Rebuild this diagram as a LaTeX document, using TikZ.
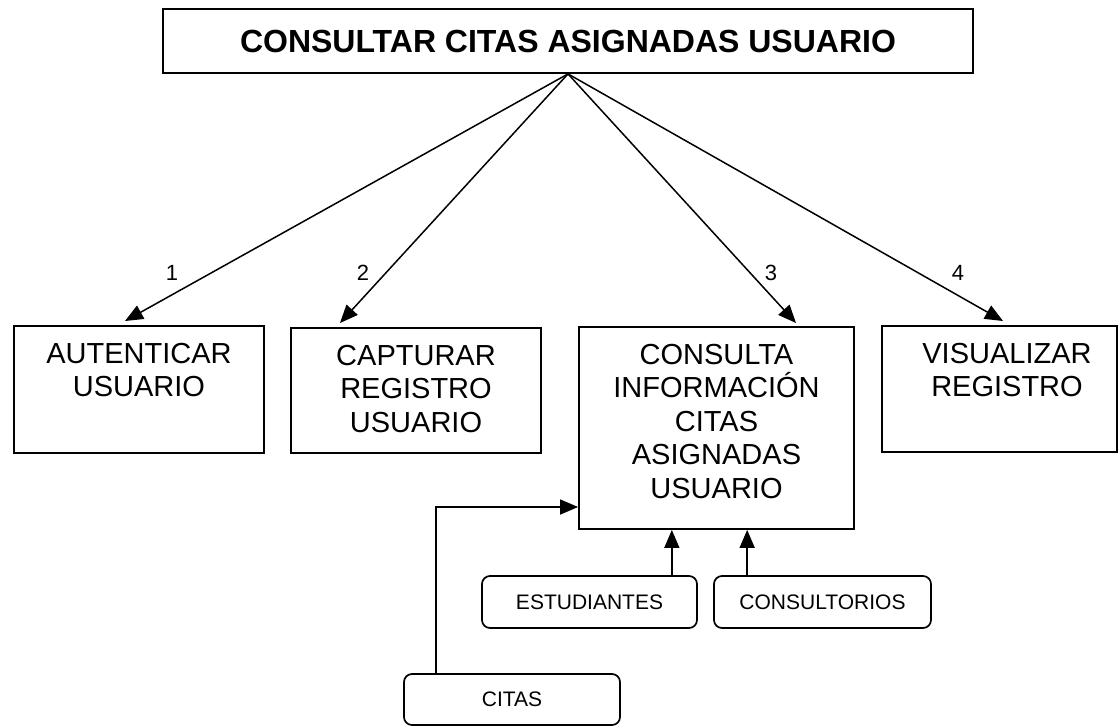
\documentclass[tikz,border=0pt]{standalone}
\usepackage{fontspec}
\setmainfont{Liberation Sans}
\usetikzlibrary{arrows.meta,calc}
\begin{document}
\begin{tikzpicture}[x=1pt,y=-1pt,
  box/.style={draw, line width=1.8pt, inner sep=0pt},
  boxtxt/.style={font=\fontsize{29}{33.5}\selectfont, align=center, inner sep=0pt, anchor=north},
  dbox/.style={draw, rounded corners=8pt, line width=1.7pt, font=\fontsize{21}{25}\selectfont, inner sep=0pt},
  arr/.style={-{Triangle[length=18pt,width=15pt]}, line width=1.5pt},
  num/.style={font=\fontsize{22}{26}\selectfont, inner sep=0pt}]
\useasboundingbox (0,0) rectangle (1119,726);

% title
\node[box, minimum width=810pt, minimum height=64pt, font=\fontsize{32}{38}\selectfont\bfseries] (title) at (568,41) {CONSULTAR CITAS ASIGNADAS USUARIO};

% process boxes
\node[box, minimum width=250pt, minimum height=127pt] (aut) at (139,389.5) {};
\node[boxtxt] (autT) at (139,343) {AUTENTICAR\\USUARIO};

\node[box, minimum width=250pt, minimum height=125pt] (cap) at (416,390.5) {};
\node[boxtxt] (capT) at (416,345) {CAPTURAR\\REGISTRO\\USUARIO};

\node[box, minimum width=275pt, minimum height=202pt] (con) at (716.5,428) {};
\node[boxtxt] (conT) at (716.5,344) {CONSULTA\\INFORMACIÓN\\CITAS\\ASIGNADAS\\USUARIO};

\node[box, minimum width=235pt, minimum height=126pt] (vis) at (999.5,389) {};
\node[boxtxt] (visT) at (1007,343) {VISUALIZAR\\REGISTRO};

% data stores
\node[dbox, minimum width=215pt, minimum height=52pt] (est) at (589.5,602) {ESTUDIANTES};
\node[dbox, minimum width=217pt, minimum height=52pt] (cons) at (822.5,602) {CONSULTORIOS};
\node[dbox, minimum width=216pt, minimum height=51pt] (citas) at (512,699.5) {CITAS};

% arrow ends
\coordinate (t1) at (125,321);
\coordinate (t2) at (340,323);
\coordinate (t3) at (796,323);
\coordinate (t4) at (1003,321);

\draw[arr] (title.south) -- (t1);
\draw[arr] (title.south) -- (t2);
\draw[arr] (title.south) -- (t3);
\draw[arr] (title.south) -- (t4);

\node[num] (n1) at (172,273) {1};
\node[num] (n2) at (363,273) {2};
\node[num] (n3) at (771,273) {3};
\node[num] (n4) at (958,273) {4};

% inputs
\draw[arr] ([xshift=-26pt]est.north east) -- ([xshift=-26pt]est.north east |- con.south);
\draw[arr] ([xshift=34pt]cons.north west) -- ([xshift=34pt]cons.north west |- con.south);
\draw[arr] ([xshift=33pt]citas.north west) |- ([yshift=-79pt]con.west);
\end{tikzpicture}
\end{document}
